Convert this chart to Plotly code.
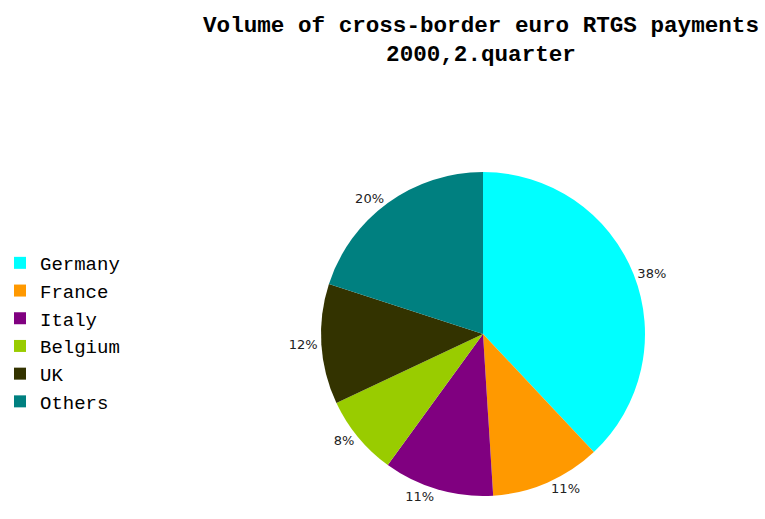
import plotly.graph_objects as go

countries = ["Germany", "France", "Italy", "Belgium", "UK", "Others"]
shares = [38, 11, 11, 8, 12, 20]
colors = ["#00FFFF", "#FF9900", "#800080", "#99CC00", "#333300", "#008080"]

W, H = 765, 519
cx, cy, r = 483, 334, 162

fig = go.Figure(go.Pie(
    labels=countries,
    values=shares,
    sort=False,
    direction="clockwise",
    rotation=0,
    marker=dict(colors=colors, line=dict(width=0)),
    textposition="outside",
    texttemplate="%{percent:.0%}",
    textfont=dict(family="DejaVu Sans", size=13, color="#222222"),
    domain=dict(x=[(cx - r) / W, (cx + r) / W], y=[(H - cy - r) / H, (H - cy + r) / H]),
    hoverinfo="label+percent",
))

fig.update_layout(
    width=W, height=H,
    margin=dict(l=0, r=0, t=0, b=0),
    paper_bgcolor="white",
    plot_bgcolor="white",
    title=dict(
        text="Volume of cross-border euro RTGS payments<br>2000,2.quarter",
        x=481 / W, xanchor="center",
        y=1 - 32 / H, yanchor="top",
        font=dict(family="Liberation Mono", size=22.6, color="black", weight="bold"),
    ),
    legend=dict(
        x=0, xanchor="left",
        y=1 - 244 / H, yanchor="top",
        font=dict(family="Liberation Mono", size=19, color="black"),
        bgcolor="rgba(0,0,0,0)",
    ),
    showlegend=True,
)

fig.write_html(
    "out.html",
    config={"displayModeBar": False},
    post_script="document.body.style.margin='0';",
)
